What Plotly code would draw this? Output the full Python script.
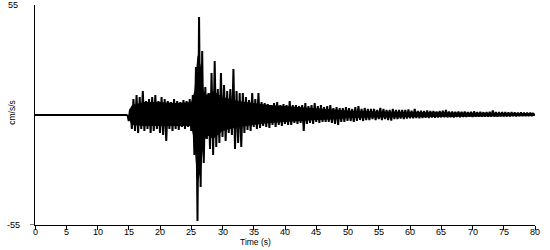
import plotly.graph_objects as go

# Pre-event quiet record (cm/s/s)
pre_time = [0, 14.8]
pre_accel = [0, 0]

# Waveform read as negative / positive peaks every 0.5 s from 15.0 s
# (negative peak at t, positive peak a quarter-step later)
t_start = 15.0
t_step = 0.5
peak_neg = [
    -3, -7, -8, -9, -7, -8, -7, -9, -8, -7,
    -9, -10, -13, -7, -8, -7, -7.5, -6, -7, -6,
    -8, -20, -53, -36, -24, -12, -17, -20, -16, -14,
    -11, -13, -9, -10, -17, -14, -16, -9, -7.5, -8,
    -6, -7, -6.5, -5.5, -6, -6.5, -5, -6, -5, -5.5,
    -4.5, -5, -5, -4, -4.5, -4, -8, -4.5, -4, -4.5,
    -3.5, -4, -3.5, -3.5, -3.5, -4, -4.5, -5, -3.5, -3.5,
    -3, -3, -3.5, -3, -2.5, -3, -2.5, -2.5, -2, -2.5,
    -2, -2.5, -2, -2.5, -2.8, -2, -2, -1.8, -2, -1.8,
    -1.7, -1.7, -1.5, -1.6, -1.5, -1.4, -1.5, -1.3, -1.4, -1.3,
    -1.2, -1.2, -1.2, -1.1, -1.2, -1.0, -1.1, -1.0, -1.0, -0.9,
    -1.0, -0.9, -0.9, -0.8, -0.9, -0.8, -0.8, -0.8, -0.8, -0.7,
    -0.7, -0.7, -0.7, -0.6, -0.7, -0.6, -0.6, -0.6, -0.5, -0.5,
]
peak_pos = [
    3, 8, 10, 9, 12, 7, 8, 9, 10, 7,
    9, 8, 7, 6.5, 8, 7, 6.5, 7.5, 7, 8,
    10, 24, 49, 32, 14, 11, 21, 27, 13, 21,
    15, 12, 13, 23, 12, 11, 11, 9, 7.5, 11,
    8, 11, 6.5, 6, 5.5, 5, 6, 6.5, 5, 5.5,
    5, 7, 5, 5, 4.5, 5, 6, 4.5, 5, 6,
    4.5, 5, 4, 4.5, 5, 3.5, 4, 3.5, 3.5, 4,
    3.5, 3, 4, 4.5, 3, 3.5, 3, 3, 3, 2.5,
    3.5, 3, 2.5, 2.5, 3, 2.5, 2.5, 2.5, 2.5, 2.8,
    2.2, 3, 2, 2.2, 2, 2.3, 2, 2, 1.8, 2,
    2.2, 2.5, 1.8, 1.8, 1.6, 1.8, 1.6, 1.7, 1.5, 1.6,
    1.8, 1.5, 1.6, 1.4, 1.5, 1.6, 2.2, 1.5, 1.4, 1.5,
    1.4, 1.3, 1.4, 1.3, 1.2, 1.3, 1.2, 1.2, 1.1, 1.2,
]

# Dense (solid) core of the record
core_time = [15, 15.5, 17.5, 20, 22.5, 25, 25.5, 26, 26.5, 27, 27.5, 28.5, 30,
             32.5, 35, 37.5, 40, 42.5, 45, 47.5, 50, 55, 60, 65, 70, 75, 80]
core_pos = [2, 5, 6.5, 6.5, 6, 6.5, 12, 30, 25, 12, 10, 12, 9,
            7, 6, 5, 4.5, 4, 3.5, 3, 2.2, 1.8, 1.5, 1.3, 1.1, 1.0, 0.8]
core_neg = [-2, -5, -5.5, -5.5, -5.5, -5.5, -14, -35, -28, -14, -10, -12, -8,
            -6, -5, -4, -3.5, -3, -2.5, -2.2, -1.5, -1.2, -1.0, -0.8, -0.7, -0.6, -0.5]

x_ticks = list(range(0, 81, 5))

# build zig-zag trace
wx, wy = [], []
for i, (lo, hi) in enumerate(zip(peak_neg, peak_pos)):
    t = t_start + i * t_step
    wx += [t, t + t_step / 2]
    wy += [lo, hi]

fig = go.Figure()
fig.add_trace(go.Scatter(
    x=core_time + core_time[::-1], y=core_pos + core_neg[::-1],
    fill="toself", fillcolor="black", mode="lines",
    line=dict(width=0, color="black"), hoverinfo="skip", showlegend=False))
fig.add_trace(go.Scatter(x=pre_time, y=pre_accel, mode="lines",
                         line=dict(color="black", width=2), showlegend=False))
fig.add_trace(go.Scatter(x=[pre_time[-1]] + wx, y=[0] + wy, mode="lines",
                         line=dict(color="black", width=2), showlegend=False))

fam = "Liberation Sans, Arial, sans-serif"
num_font = dict(family=fam, size=9, color="black")
title_font = dict(family=fam, size=8.5, color="black")

annotations = [
    dict(text="55", xref="paper", yref="y", x=-0.03, y=55,
         xanchor="right", yanchor="middle", showarrow=False, font=num_font),
    dict(text="-55", xref="paper", yref="y", x=-0.027, y=-55,
         xanchor="right", yanchor="middle", showarrow=False, font=num_font),
    dict(text="cm/s/s", xref="paper", yref="paper", x=-0.046, y=0.51,
         xanchor="center", yanchor="middle", textangle=-90,
         showarrow=False, font=title_font),
    dict(text="Time (s)", xref="paper", yref="paper", x=0.44, y=-0.078,
         xanchor="center", yanchor="middle", showarrow=False, font=title_font),
]
for v in x_ticks:
    annotations.append(dict(text=str(v), xref="x", yref="paper", x=v, y=-0.034,
                            xanchor="center", yanchor="middle", showarrow=False,
                            font=num_font))

fig.update_layout(
    width=550, height=250,
    margin=dict(l=35, r=15, t=5, b=25),
    paper_bgcolor="white", plot_bgcolor="white",
    showlegend=False,
    xaxis=dict(range=[0, 80], tickvals=x_ticks, ticks="outside", ticklen=4,
               tickcolor="black", showticklabels=False, showline=True,
               linecolor="black", linewidth=1, showgrid=False, zeroline=False),
    yaxis=dict(range=[-55, 55], showticklabels=False, ticks="",
               showline=True, linecolor="black", linewidth=1,
               showgrid=False, zeroline=False),
    shapes=[dict(type="line", xref="paper", yref="y", x0=-0.01, x1=0,
                 y0=-55, y1=-55, line=dict(color="black", width=1))],
    annotations=annotations,
)

fig.write_html("out.html")
